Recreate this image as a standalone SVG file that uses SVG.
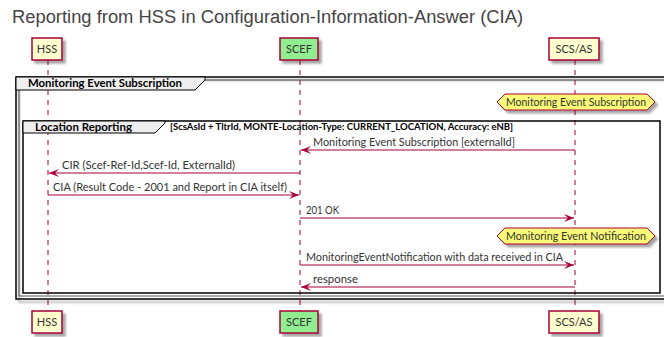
<svg xmlns="http://www.w3.org/2000/svg" width="664" height="337" viewBox="0 0 664 337">
<defs>
<marker id="ah" markerWidth="10" markerHeight="8" refX="10" refY="4" orient="auto" markerUnits="userSpaceOnUse">
<path d="M0,0 L10,4 L0,8 L4,4 Z" fill="#A80036"/>
</marker>
<filter id="sh" x="-20%" y="-20%" width="150%" height="150%">
<feGaussianBlur in="SourceAlpha" stdDeviation="1.2"/>
<feOffset dx="3" dy="3" result="b"/>
<feComponentTransfer><feFuncA type="linear" slope="0.35"/></feComponentTransfer>
<feMerge><feMergeNode/><feMergeNode in="SourceGraphic"/></feMerge>
</filter>
</defs>
<style>
.title{font-family:"Liberation Sans",Arial,sans-serif;font-size:18px;fill:#444}
.pbox{stroke:#A80036;stroke-width:1.5;filter:url(#sh)}
.ptxt{font-family:Lato,"Open Sans",sans-serif;font-size:11px;fill:#333;text-anchor:middle}
.life{stroke:#A80036;stroke-width:1;stroke-dasharray:5,5;fill:none}
.msg{stroke:#A80036;stroke-width:1;fill:none;marker-end:url(#ah)}
.mtxt{font-family:Lato,"Open Sans",sans-serif;font-size:11px;fill:#333}
.frame{fill:none;stroke:#000;stroke-width:1.5}
.tab{fill:#EEEEEE;stroke:#000;stroke-width:1}
.ftxt{font-family:Lato,"Open Sans",sans-serif;font-size:11px;font-weight:bold;fill:#000}
.ctxt{font-family:Lato,"Open Sans",sans-serif;font-size:8.5px;font-weight:bold;fill:#000}
.hex{fill:#FBFB77;stroke:#A80036;stroke-width:1;filter:url(#sh)}
.htxt{font-family:Lato,"Open Sans",sans-serif;font-size:10.5px;fill:#333;text-anchor:middle}
</style>
<rect width="664" height="337" fill="#fff"/>
<text class="title" x="12" y="23" textLength="511" lengthAdjust="spacingAndGlyphs">Reporting from HSS in Configuration-Information-Answer (CIA)</text>

<g id="lifelines">
<line class="life" x1="48" y1="60" x2="48" y2="311"/>
<line class="life" x1="300" y1="60" x2="300" y2="311"/>
<line class="life" x1="575" y1="60" x2="575" y2="311"/>
</g>

<g id="group-monitoring">
<rect x="19" y="80" width="650" height="216" fill="none" stroke="#555" stroke-width="1"/>
<rect class="frame" x="16" y="77" width="660" height="222" style="filter:url(#sh)"/>
<path class="tab" d="M16,77 L205,77 L205,80 L195,90 L16,90 Z"/>
<text class="ftxt" x="28" y="87" textLength="154" lengthAdjust="spacingAndGlyphs">Monitoring Event Subscription</text>
</g>

<g id="group-location">
<rect class="frame" x="23" y="121" width="637" height="172"/>
<path class="tab" d="M23,121 L165,121 L165,123 L155,133 L23,133 Z"/>
<text class="ftxt" x="35" y="131" textLength="97" lengthAdjust="spacingAndGlyphs">Location Reporting</text>
<text class="ctxt" x="170" y="130" textLength="343" lengthAdjust="spacingAndGlyphs">[ScsAsId + TltrId, MONTE-Location-Type: CURRENT_LOCATION, Accuracy: eNB]</text>
</g>

<g id="HSS-top"><rect class="pbox" x="32" y="38" width="30" height="22" fill="#FEFECE"/><text class="ptxt" x="47" y="53">HSS</text></g>
<g id="SCEF-top"><rect class="pbox" x="280" y="38" width="38" height="22" fill="#90EE90"/><text class="ptxt" x="299" y="53">SCEF</text></g>
<g id="SCSAS-top"><rect class="pbox" x="549" y="38" width="50" height="22" fill="#FEFECE"/><text class="ptxt" x="574" y="53">SCS/AS</text></g>
<g id="HSS-bottom"><rect class="pbox" x="32" y="311" width="30" height="22" fill="#FEFECE"/><text class="ptxt" x="47" y="326">HSS</text></g>
<g id="SCEF-bottom"><rect class="pbox" x="280" y="311" width="38" height="22" fill="#90EE90"/><text class="ptxt" x="299" y="326">SCEF</text></g>
<g id="SCSAS-bottom"><rect class="pbox" x="549" y="311" width="50" height="22" fill="#FEFECE"/><text class="ptxt" x="574" y="326">SCS/AS</text></g>

<g id="note-subscription">
<path class="hex" d="M497,102 L505,94 L647,94 L655,102 L647,110 L505,110 Z"/>
<text class="htxt" x="576" y="106" textLength="140" lengthAdjust="spacingAndGlyphs">Monitoring Event Subscription</text>
</g>
<g id="note-notification">
<path class="hex" d="M497,236 L505,228 L647,228 L655,236 L647,244 L505,244 Z"/>
<text class="htxt" x="576" y="240" textLength="140" lengthAdjust="spacingAndGlyphs">Monitoring Event Notification</text>
</g>

<g id="connectors">
<line class="msg" x1="575" y1="150" x2="301" y2="150"/>
<line class="msg" x1="300" y1="173" x2="49" y2="173"/>
<line class="msg" x1="48" y1="195" x2="299" y2="195"/>
<line class="msg" x1="300" y1="218" x2="574" y2="218"/>
<line class="msg" x1="300" y1="265" x2="574" y2="265"/>
<line class="msg" x1="575" y1="287" x2="301" y2="287"/>
</g>
<g id="labels">
<text class="mtxt" x="313" y="146" textLength="202" lengthAdjust="spacingAndGlyphs">Monitoring Event Subscription [externalId]</text>
<text class="mtxt" x="62" y="169" textLength="173" lengthAdjust="spacingAndGlyphs">CIR (Scef-Ref-Id,Scef-Id, ExternalId)</text>
<text class="mtxt" x="53" y="191" textLength="234" lengthAdjust="spacingAndGlyphs">CIA (Result Code - 2001 and Report in CIA itself)</text>
<text class="mtxt" x="306" y="214" textLength="33" lengthAdjust="spacingAndGlyphs">201 OK</text>
<text class="mtxt" x="306" y="261" textLength="257" lengthAdjust="spacingAndGlyphs">MonitoringEventNotification with data received in CIA</text>
<text class="mtxt" x="313" y="283" textLength="45" lengthAdjust="spacingAndGlyphs">response</text>
</g>
</svg>
